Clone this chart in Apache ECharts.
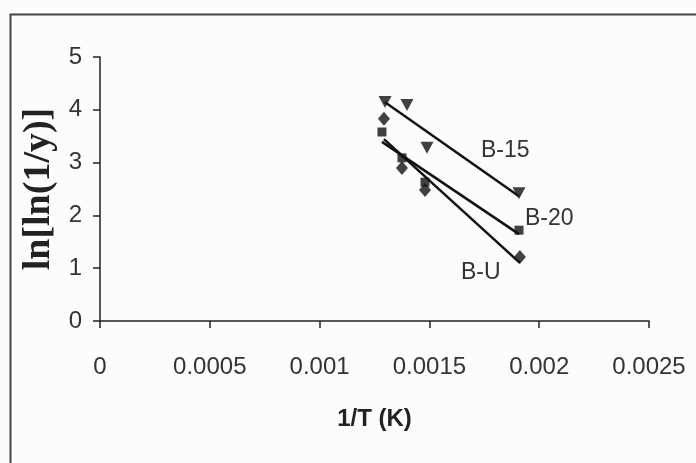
<!DOCTYPE html>
<html>
<head>
<meta charset="utf-8">
<script src="https://cdn.jsdelivr.net/npm/echarts@6/dist/echarts.min.js"></script>
<style>
html,body{margin:0;padding:0;background:#fcfcfc;}
#c{width:696px;height:463px;}
</style>
</head>
<body>
<div id="c"></div>
<script>
// Data
var xTicks = [0, 0.0005, 0.001, 0.0015, 0.002, 0.0025];
var yTicks = [0, 1, 2, 3, 4, 5];

var xB15 = [0.001298, 0.001398, 0.001489, 0.001908];
var yB15 = [4.15, 4.09, 3.28, 2.42];

var xB20 = [0.001284, 0.001375, 0.001480, 0.001908];
var yB20 = [3.58, 3.09, 2.63, 1.72];

var xBU = [0.001293, 0.001375, 0.001480, 0.001912];
var yBU = [3.83, 2.90, 2.48, 1.21];

var seriesNames = ['B-15', 'B-20', 'B-U'];

function pairs(xs, ys) { return xs.map(function (x, i) { return [x, ys[i]]; }); }
function trend(xs, ys) {
  var n = xs.length, mx = 0, my = 0;
  for (var i = 0; i < n; i++) { mx += xs[i]; my += ys[i]; }
  mx /= n; my /= n;
  var sxy = 0, sxx = 0;
  for (var j = 0; j < n; j++) { sxy += (xs[j] - mx) * (ys[j] - my); sxx += (xs[j] - mx) * (xs[j] - mx); }
  var b = sxy / sxx, a = my - b * mx;
  var x0 = Math.min.apply(null, xs), x1 = Math.max.apply(null, xs);
  return [[x0, a + b * x0], [x1, a + b * x1]];
}

var font = '"Liberation Sans", Arial, sans-serif';
var chart = echarts.init(document.getElementById('c'), null, {renderer: 'canvas'});

function lineSeries(xs, ys) {
  return {type: 'line', data: trend(xs, ys), symbol: 'none', silent: true,
    lineStyle: {color: '#111', width: 2.5}, z: 2};
}
function scatterSeries(name, xs, ys, sym, size, rot) {
  return {type: 'scatter', name: name, data: pairs(xs, ys), symbol: sym, symbolSize: size,
    symbolRotate: rot || 0, itemStyle: {color: '#111'}, z: 3};
}

chart.setOption({
  backgroundColor: '#fcfcfc',
  animation: false,
  grid: {left: 100, right: 47, top: 57, bottom: 142, containLabel: false, outerBoundsMode: 'none'},
  xAxis: {
    type: 'value', min: xTicks[0], max: xTicks[xTicks.length - 1], interval: 0.0005,
    name: '1/T (K)', nameLocation: 'middle', nameGap: 86,
    nameTextStyle: {fontFamily: font, fontWeight: 'bold', fontSize: 24, color: '#222'},
    axisLine: {lineStyle: {color: '#222', width: 1.5}},
    axisTick: {show: true, length: 7, lineStyle: {color: '#222', width: 1.5}},
    axisLabel: {fontFamily: font, fontSize: 24, color: '#333', margin: 34,
      formatter: function (v) { return String(v); }},
    splitLine: {show: false}
  },
  yAxis: {
    type: 'value', min: yTicks[0], max: yTicks[yTicks.length - 1], interval: 1,
    name: 'ln[ln(1/y)]', nameLocation: 'middle', nameGap: 41, nameRotate: 90,
    nameTextStyle: {fontFamily: '"Liberation Serif", "Times New Roman", serif', fontWeight: 'bold', fontSize: 38, color: '#222'},
    axisLine: {show: true, lineStyle: {color: '#222', width: 1.5}},
    axisTick: {show: true, length: 7, lineStyle: {color: '#222', width: 1.5}},
    axisLabel: {fontFamily: font, fontSize: 24, color: '#333', margin: 18},
    splitLine: {show: false}
  },
  series: [
    lineSeries(xB15, yB15),
    lineSeries(xB20, yB20),
    lineSeries(xBU, yBU),
    scatterSeries(seriesNames[0], xB15, yB15, 'triangle', [13, 12], 180),
    scatterSeries(seriesNames[1], xB20, yB20, 'rect', 9),
    scatterSeries(seriesNames[2], xBU, yBU, 'diamond', [12, 14])
  ],
  graphic: [
    {type: 'rect', left: 8, top: 12, shape: {width: 700, height: 460},
      style: {fill: 'none', stroke: '#444', lineWidth: 2}, silent: true},
    {type: 'text', left: 481, top: 139, style: {text: seriesNames[0], font: '23px ' + font, fill: '#333'}},
    {type: 'text', left: 525, top: 207, style: {text: seriesNames[1], font: '23px ' + font, fill: '#333'}},
    {type: 'text', left: 461, top: 261, style: {text: seriesNames[2], font: '23px ' + font, fill: '#333'}}
  ]
});
</script>
</body>
</html>
